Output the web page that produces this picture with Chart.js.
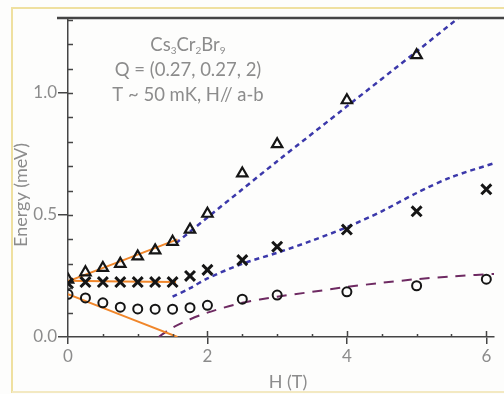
<!DOCTYPE html>
<html>
<head>
<meta charset="utf-8">
<script src="https://cdn.jsdelivr.net/npm/chart.js@4"></script>
<style>
  html, body { margin: 0; padding: 0; background: #fdfdfc; }
  canvas { display: block; }
</style>
</head>
<body>
<canvas id="dispersionChart" width="504" height="394"></canvas>
<script>
// field values (T) for each branch
const fieldUpper = [0, 0.25, 0.5, 0.75, 1, 1.25, 1.5, 1.75, 2, 2.5, 3, 4, 5];
const energyUpper = [0.235, 0.265, 0.283, 0.30, 0.33, 0.355, 0.39, 0.44, 0.505, 0.67, 0.79, 0.97, 1.155];

const fieldMiddle = [0, 0.25, 0.5, 0.75, 1, 1.25, 1.5, 1.75, 2, 2.5, 3, 4, 5, 6];
const energyMiddle = [0.22, 0.225, 0.225, 0.225, 0.225, 0.225, 0.225, 0.25, 0.275, 0.315, 0.37, 0.44, 0.515, 0.605];

const fieldLower = [0, 0.25, 0.5, 0.75, 1, 1.25, 1.5, 1.75, 2, 2.5, 3, 4, 5, 6];
const energyLower = [0.175, 0.16, 0.14, 0.122, 0.115, 0.114, 0.114, 0.12, 0.13, 0.155, 0.172, 0.185, 0.21, 0.237];

// low-field linear fits (orange)
const fitUpperH = [0, 1.57];
const fitUpperE = [0.228, 0.40];
const fitMiddleH = [0, 1.55];
const fitMiddleE = [0.23, 0.225];
const fitLowerH = [0, 1.57];
const fitLowerE = [0.175, 0.0];

// high-field model curves
const modelUpperH = [1.55, 2, 2.5, 3, 4, 5, 5.7];
const modelUpperE = [0.385, 0.49, 0.605, 0.72, 0.945, 1.17, 1.33];
const modelMiddleH = [1.5, 1.75, 2, 2.5, 3, 3.5, 4, 4.5, 5, 5.5, 6.2];
const modelMiddleE = [0.165, 0.2, 0.24, 0.3, 0.345, 0.395, 0.45, 0.515, 0.59, 0.655, 0.72];
const modelLowerH = [1.3, 1.45, 1.65, 2, 2.5, 3, 3.5, 4, 4.5, 5, 5.5, 6.2];
const modelLowerE = [0, 0.03, 0.06, 0.1, 0.14, 0.165, 0.185, 0.205, 0.222, 0.237, 0.248, 0.26];

const xTicks = [0, 2, 4, 6];
const yTicks = [0, 0.5, 1.0];

const zip = (xs, ys) => xs.map((x, i) => ({ x: x, y: ys[i] }));

const textGray = "#8c8c8c";
const axisGray = "#454545";
const fontFamily = "Lato, 'Open Sans', sans-serif";

function markers(xs, ys, style, radius, width) {
  return {
    data: zip(xs, ys),
    showLine: false,
    pointStyle: style,
    pointRadius: radius,
    pointBorderWidth: width,
    pointBorderColor: "#151515",
    pointBackgroundColor: "rgba(255,255,255,0)",
    order: 0,
  };
}

function curve(xs, ys, color, width, dash, order) {
  return {
    data: zip(xs, ys),
    showLine: true,
    borderColor: color,
    borderWidth: width,
    borderDash: dash,
    pointRadius: 0,
    tension: 0.3,
    fill: false,
    order: order,
  };
}

// page edge, frame line, minor ticks, labels
const decorations = {
  id: "decorations",
  beforeDraw(chart) {
    const ctx = chart.ctx;
    ctx.save();
    ctx.strokeStyle = "#efe0a0";
    ctx.lineWidth = 2;
    ctx.beginPath();
    ctx.moveTo(12, 393);
    ctx.lineTo(12, 8);
    ctx.lineTo(504, 8);
    ctx.stroke();
    ctx.strokeStyle = "#f3e9c2";
    ctx.beginPath();
    ctx.moveTo(12, 392);
    ctx.lineTo(504, 392);
    ctx.stroke();
    ctx.restore();
  },
  afterDraw(chart) {
    const ctx = chart.ctx;
    const area = chart.chartArea;
    const xs = chart.scales.x;
    const ys = chart.scales.y;
    ctx.save();
    ctx.strokeStyle = axisGray;

    // top frame line
    ctx.lineWidth = 2.5;
    ctx.beginPath();
    ctx.moveTo(57, area.top);
    ctx.lineTo(504, area.top);
    ctx.stroke();

    // inward ticks on the left axis
    ctx.lineWidth = 1.5;
    for (let v = 0.1; v < 1.31; v += 0.1) {
      const py = Math.round(ys.getPixelForValue(v)) + 0.5;
      ctx.beginPath();
      ctx.moveTo(area.left, py);
      ctx.lineTo(area.left + 5, py);
      ctx.stroke();
    }
    // inward ticks on the bottom axis
    for (let h = 0.5; h < 6.1; h += 0.5) {
      const px = Math.round(xs.getPixelForValue(h)) + 0.5;
      const major = Math.abs(h / 2 - Math.round(h / 2)) < 1e-6;
      ctx.beginPath();
      ctx.moveTo(px, area.bottom);
      ctx.lineTo(px, area.bottom - (major ? 6 : 3));
      ctx.stroke();
    }

    ctx.fillStyle = textGray;
    ctx.font = "18px " + fontFamily;
    ctx.textAlign = "center";
    ctx.textBaseline = "middle";
    ctx.fillText("H (T)", 288, 382);

    ctx.save();
    ctx.translate(21, 195);
    ctx.rotate(-Math.PI / 2);
    ctx.fillText("Energy (meV)", 0, 0);
    ctx.restore();

    // sample / conditions block
    const cx = 188;
    const parts = [["Cs", false], ["3", true], ["Cr", false], ["2", true], ["Br", false], ["9", true]];
    const big = "18.5px " + fontFamily;
    const small = "10px " + fontFamily;
    let total = 0;
    parts.forEach(([t, sub]) => {
      ctx.font = sub ? small : big;
      total += ctx.measureText(t).width;
    });
    let px = cx - total / 2;
    ctx.textAlign = "left";
    parts.forEach(([t, sub]) => {
      ctx.font = sub ? small : big;
      ctx.fillText(t, px, sub ? 51 : 45);
      px += ctx.measureText(t).width;
    });
    ctx.textAlign = "center";
    ctx.font = big;
    ctx.fillText("Q = (0.27, 0.27, 2)", cx, 70);
    ctx.fillText("T ~ 50 mK, H// a-b", cx, 95);
    ctx.restore();
  },
};

const canvas = document.getElementById("dispersionChart");
new Chart(canvas, {
  type: "scatter",
  data: {
    datasets: [
      markers(fieldUpper, energyUpper, "triangle", 6, 2.2),
      markers(fieldMiddle, energyMiddle, "crossRot", 7, 3),
      markers(fieldLower, energyLower, "circle", 4.5, 2),
      curve(fitUpperH, fitUpperE, "#f0862a", 2, [], 1),
      curve(fitMiddleH, fitMiddleE, "#f0862a", 2, [], 1),
      curve(fitLowerH, fitLowerE, "#f0862a", 2, [], 1),
      curve(modelUpperH, modelUpperE, "#3b38aa", 2.5, [5, 4], 2),
      curve(modelMiddleH, modelMiddleE, "#3b38aa", 2.5, [5, 4], 2),
      curve(modelLowerH, modelLowerE, "#6e2a62", 2, [10, 8], 2),
    ],
  },
  options: {
    responsive: false,
    animation: false,
    devicePixelRatio: 1,
    layout: { padding: { top: 18, right: 0, left: 0, bottom: 0 } },
    plugins: {
      legend: { display: false },
      tooltip: { enabled: false },
    },
    scales: {
      x: {
        type: "linear",
        min: 0,
        max: 6.11,
        afterBuildTicks: (scale) => {
          scale.ticks = xTicks.map((v) => ({ value: v }));
        },
        afterFit: (scale) => {
          scale.height = 57;
        },
        ticks: {
          color: textGray,
          font: { size: 17, family: fontFamily },
          padding: 2,
          maxRotation: 0,
          callback: (v) => String(v),
        },
        grid: {
          drawOnChartArea: false,
          tickLength: 7,
          color: axisGray,
          lineWidth: 1.5,
        },
        border: { color: axisGray, width: 1.5 },
      },
      y: {
        min: 0,
        max: 1.307,
        afterBuildTicks: (scale) => {
          scale.ticks = yTicks.map((v) => ({ value: v }));
        },
        afterFit: (scale) => {
          scale.width = 68;
        },
        ticks: {
          color: textGray,
          font: { size: 17, family: fontFamily },
          padding: 1,
          callback: (v) => v.toFixed(1),
        },
        grid: {
          drawOnChartArea: false,
          tickLength: 10,
          color: axisGray,
          lineWidth: 1.5,
        },
        border: { color: axisGray, width: 1.5 },
      },
    },
  },
  plugins: [decorations],
});
</script>
</body>
</html>
